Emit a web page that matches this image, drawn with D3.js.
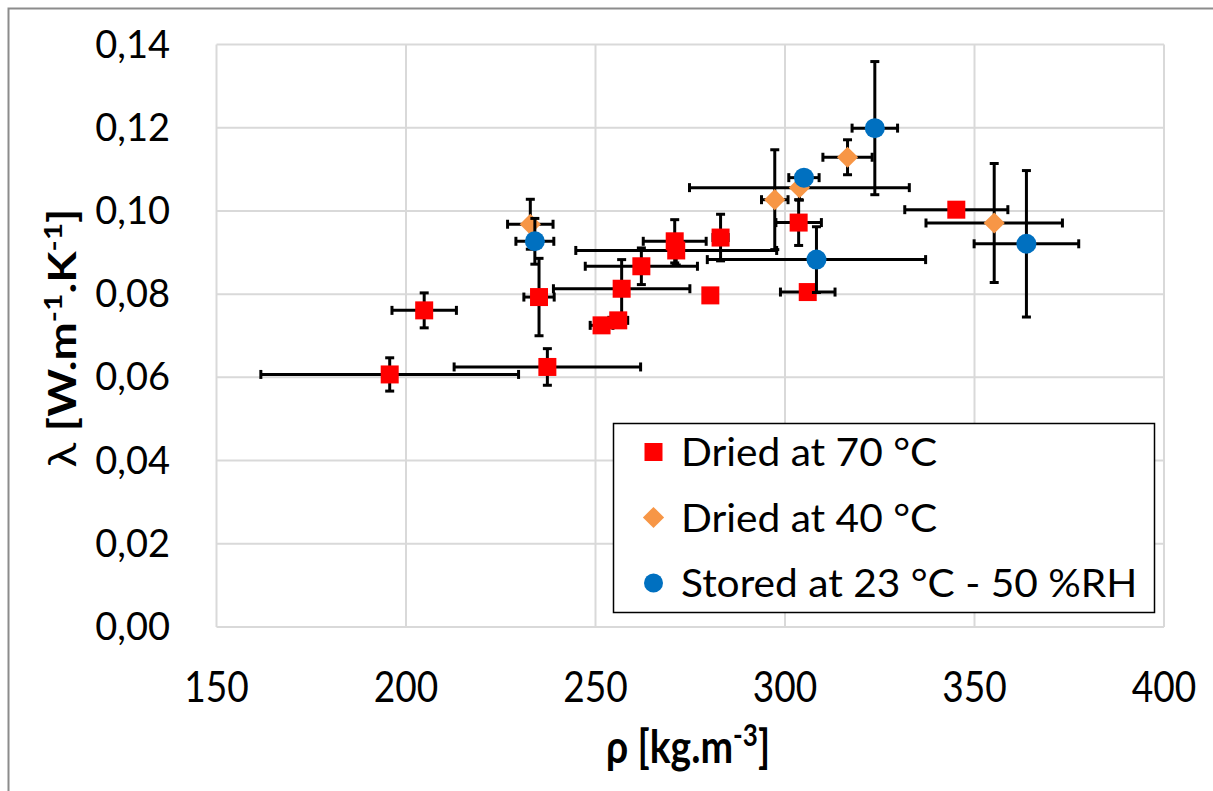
<!DOCTYPE html>
<html>
<head>
<meta charset="utf-8">
<script src="https://cdn.jsdelivr.net/npm/d3@7"></script>
<style>
  body { margin: 0; background: #fff; }
  svg text { font-family: Lato, "Open Sans", sans-serif; fill: #000; }
</style>
</head>
<body>
<svg id="chart" width="1213" height="791"></svg>
<script>
// ==================================
// DATA
// ==================================
// Dried at 70 °C
const red_rho     = [195.7, 204.8, 235.1, 237.3, 251.6, 256.0, 256.9, 262.1, 270.9, 271.3, 283.0, 280.3, 303.6, 306.0, 345.2];
const red_lambda  = [0.0607, 0.0761, 0.0793, 0.0625, 0.0725, 0.0737, 0.0813, 0.0867, 0.0927, 0.0905, 0.0936, 0.0797, 0.0972, 0.0805, 0.1003];
const red_rhoErr  = [34, 8.5, 4, 24.6, 3, 2.5, 18, 14.8, 8.3, 26.5, 2, 0, 6, 7.2, 13.6];
const red_lamErr  = [0.004, 0.0042, 0.0093, 0.0044, 0.001, 0.001, 0.007, 0.0044, 0.0052, 0.0035, 0.0056, 0, 0.0055, 0.001, 0.001];

// Dried at 40 °C
const orange_rho    = [232.8, 297.3, 303.8, 316.5, 355.2];
const orange_lambda = [0.0968, 0.1027, 0.1056, 0.1129, 0.0971];
const orange_rhoErr = [6, 3.5, 29, 6.5, 18];
const orange_lamErr = [0.006, 0.012, 0.003, 0.0042, 0.0143];

// Stored at 23 °C - 50 %RH
const blue_rho    = [234.0, 305.0, 308.3, 323.7, 363.7];
const blue_lambda = [0.0927, 0.108, 0.0883, 0.1199, 0.0921];
const blue_rhoErr = [5, 4, 28.8, 6, 13.8];
const blue_lamErr = [0.0055, 0.001, 0.0079, 0.016, 0.0176];

const xTicks = [150, 200, 250, 300, 350, 400];
const yTicks = [0, 0.02, 0.04, 0.06, 0.08, 0.10, 0.12, 0.14];

const seriesNames = ["Dried at 70 °C", "Dried at 40 °C", "Stored at 23 °C - 50 %RH"];

function zipSeries(rho, lam, ex, ey) {
    return rho.map((r, i) => ({ x: r, y: lam[i], ex: ex[i], ey: ey[i] }));
}

const series = [
    { name: seriesNames[0], shape: "square",  color: "#ff0000", points: zipSeries(red_rho, red_lambda, red_rhoErr, red_lamErr) },
    { name: seriesNames[1], shape: "diamond", color: "#f79646", points: zipSeries(orange_rho, orange_lambda, orange_rhoErr, orange_lamErr) },
    { name: seriesNames[2], shape: "circle",  color: "#0070c0", points: zipSeries(blue_rho, blue_lambda, blue_rhoErr, blue_lamErr) }
];

// ==================================
// SCALES
// ==================================
const svg = d3.select("#chart");
const PLOT = { left: 216.5, right: 1164, top: 44.5, bottom: 627 };

const x = d3.scaleLinear().domain([150, 400]).range([PLOT.left, PLOT.right]);
const y = d3.scaleLinear().domain([0, 0.14]).range([PLOT.bottom, PLOT.top]);

// outer chart border
svg.append("rect")
    .attr("x", 8.5).attr("y", 8.5)
    .attr("width", 1230).attr("height", 800)
    .attr("fill", "none")
    .attr("stroke", "#8c8c8c")
    .attr("stroke-width", 2);

// ==================================
// GRID
// ==================================
const grid = svg.append("g").attr("stroke", "#d9d9d9").attr("stroke-width", 2);
grid.selectAll("line.v")
    .data(xTicks)
    .enter().append("line")
    .attr("x1", d => x(d)).attr("x2", d => x(d))
    .attr("y1", PLOT.top).attr("y2", PLOT.bottom);
grid.selectAll("line.h")
    .data(yTicks)
    .enter().append("line")
    .attr("x1", PLOT.left).attr("x2", PLOT.right)
    .attr("y1", d => y(d)).attr("y2", d => y(d));

// tick labels (reference glyphs are a bit stretched vertically)
svg.append("g").selectAll("text")
    .data(xTicks)
    .enter().append("text")
    .attr("transform", d => `translate(${x(d)},702) scale(0.95,1.1)`)
    .attr("text-anchor", "middle")
    .style("font-size", "39px")
    .text(d => d);

const fmtY = d => d3.format(".2f")(d).replace(".", ",");
svg.append("g").selectAll("text")
    .data(yTicks)
    .enter().append("text")
    .attr("x", 170)
    .attr("y", d => y(d) + 13)
    .attr("text-anchor", "end")
    .style("font-size", "38px")
    .text(fmtY);

// axis titles
const xTitle = svg.append("text")
    .attr("transform", "translate(688,763) scale(1,1.18)")
    .attr("text-anchor", "middle")
    .style("font-size", "39px")
    .style("font-weight", "bold");
xTitle.append("tspan").text("ρ [kg.m");
xTitle.append("tspan").attr("dy", -14).style("font-size", "26px").text("-3");
xTitle.append("tspan").attr("dy", 14).text("]");

const yTitle = svg.append("text")
    .attr("transform", "translate(76,338) rotate(-90) scale(1.2,1)")
    .attr("text-anchor", "middle")
    .style("font-size", "38px")
    .style("font-weight", "bold");
yTitle.append("tspan").style("font-weight", "normal").text("λ ");
yTitle.append("tspan").text("[W.m");
yTitle.append("tspan").attr("dy", -14).style("font-size", "25px").text("-1");
yTitle.append("tspan").attr("dy", 14).text(".K");
yTitle.append("tspan").attr("dy", -14).style("font-size", "25px").text("-1");
yTitle.append("tspan").attr("dy", 14).text("]");

// ==================================
// MARKERS + ERROR BARS
// ==================================
const CAP = 4.5;
const symbolFor = {
    square:  d3.symbol().type(d3.symbolSquare).size(18 * 18),
    diamond: d3.symbol().type(d3.symbolSquare).size(15 * 15),
    circle:  d3.symbol().type(d3.symbolCircle).size(Math.PI * 10 * 10)
};

function drawErrorBars(g, pts) {
    const eb = g.append("g").attr("stroke", "#000").attr("stroke-width", 3);
    pts.forEach(p => {
        const cx = x(p.x), cy = y(p.y);
        if (p.ex > 0) {
            const x0 = x(p.x - p.ex), x1 = x(p.x + p.ex);
            eb.append("line").attr("x1", x0).attr("x2", x1).attr("y1", cy).attr("y2", cy);
            eb.append("line").attr("x1", x0).attr("x2", x0).attr("y1", cy - CAP).attr("y2", cy + CAP);
            eb.append("line").attr("x1", x1).attr("x2", x1).attr("y1", cy - CAP).attr("y2", cy + CAP);
        }
        if (p.ey > 0) {
            const y0 = y(p.y - p.ey), y1 = y(p.y + p.ey);
            eb.append("line").attr("x1", cx).attr("x2", cx).attr("y1", y0).attr("y2", y1);
            eb.append("line").attr("x1", cx - CAP).attr("x2", cx + CAP).attr("y1", y0).attr("y2", y0);
            eb.append("line").attr("x1", cx - CAP).attr("x2", cx + CAP).attr("y1", y1).attr("y2", y1);
        }
    });
}

series.forEach(s => {
    const g = svg.append("g");
    drawErrorBars(g, s.points);
    g.selectAll("path.mark")
        .data(s.points)
        .enter().append("path")
        .attr("d", symbolFor[s.shape])
        .attr("transform", d => `translate(${x(d.x)},${y(d.y)})` + (s.shape === "diamond" ? " rotate(45)" : ""))
        .attr("fill", s.color);
});

// ==================================
// LEGEND
// ==================================
const legend = svg.append("g");
legend.append("rect")
    .attr("x", 613.5).attr("y", 423.5)
    .attr("width", 541).attr("height", 189)
    .attr("fill", "#fff")
    .attr("stroke", "#000")
    .attr("stroke-width", 1.5);

const legendSymbols = {
    square:  d3.symbol().type(d3.symbolSquare).size(18 * 18),
    diamond: d3.symbol().type(d3.symbolSquare).size(15 * 15),
    circle:  d3.symbol().type(d3.symbolCircle).size(Math.PI * 9.5 * 9.5)
};

series.forEach((s, i) => {
    const cy = 452 + i * 65.5;
    legend.append("path")
        .attr("d", legendSymbols[s.shape])
        .attr("transform", `translate(653.5,${cy})` + (s.shape === "diamond" ? " rotate(45)" : ""))
        .attr("fill", s.color);
    legend.append("text")
        .attr("transform", `translate(681,${cy + 14}) scale(1.07,1)`)
        .style("font-size", "38px")
        .text(s.name);
});
</script>
</body>
</html>
